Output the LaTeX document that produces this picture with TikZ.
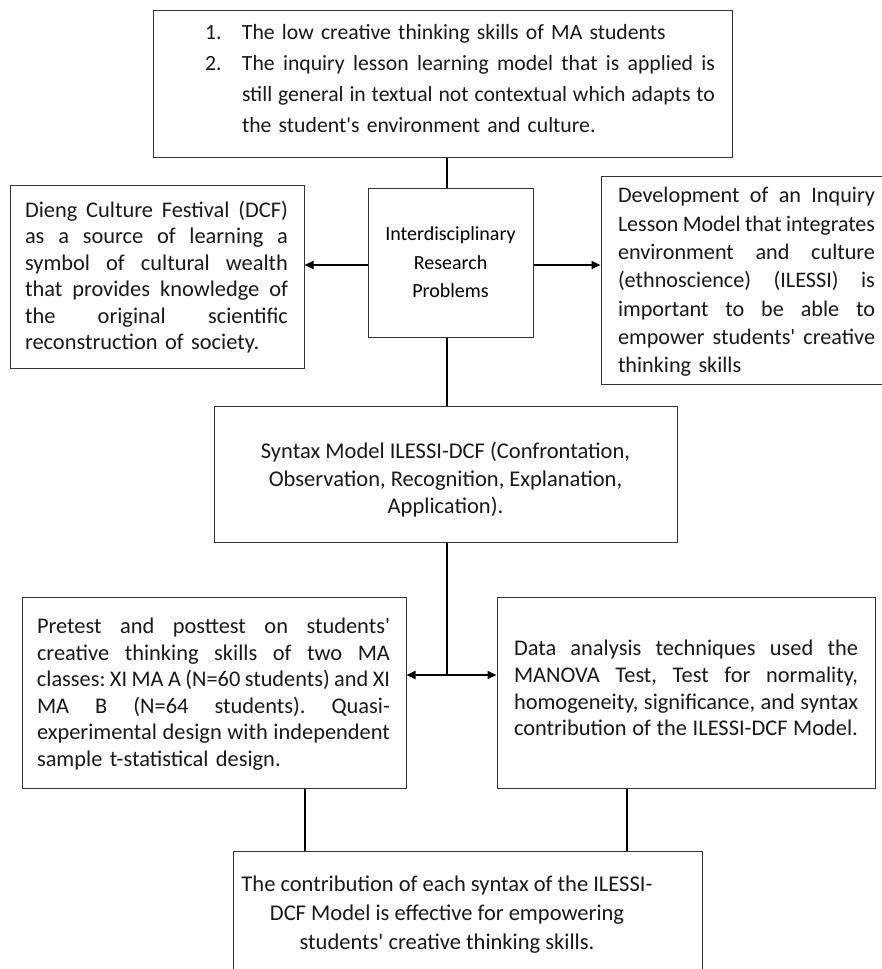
\documentclass[tikz,border=0pt]{standalone}
\usepackage{fontspec}
\usepackage{graphicx}
\setmainfont{Carlito}
\usetikzlibrary{arrows.meta}
\newlength{\jwd}
\newcommand{\jline}[2]{%
  \settowidth{\jwd}{\spaceskip=0.2em\relax #2}%
  \ifdim\jwd>#1\relax
    \resizebox{#1}{\height}{\spaceskip=0.2em\relax #2}%
  \else
    \makebox[#1][s]{\spaceskip=0.2em plus 1fil\relax #2}%
  \fi}
\newcommand{\ap}{\textquotesingle}
\tikzset{
  box/.style={draw=black!80, line width=1pt, inner sep=0pt},
  conn/.style={line width=2pt, draw=black},
  arr/.style={conn, -{Triangle[length=9pt,width=8pt]}},
  txt/.style={inner sep=0pt, text=black!90},
}
\begin{document}
\frenchspacing
\begin{tikzpicture}[x=1pt,y=-1pt]
\useasboundingbox (0,0) rectangle (882,969);
\fill[white] (0,0) rectangle (882,969);
\clip (0,0) rectangle (882,969);

% ---------- boxes ----------
\node[box, minimum width=579pt, minimum height=147pt] (top) at (442.5,83.5) {};
\node[txt, text width=510pt, align=left, font=\fontsize{21.7}{31}\selectfont] (toptext) at (460,79) {%
\makebox[37pt][l]{1.}The low creative thinking skills of MA students\\
\makebox[37pt][l]{2.}\jline{473pt}{The inquiry lesson learning model that is applied is}\\
\hspace*{37pt}\jline{473pt}{still general in textual not contextual which adapts to}\\
\hspace*{37pt}the student\ap s environment and culture.};

\node[box, minimum width=165pt, minimum height=149pt, align=center,
      font=\fontsize{20}{28.5}\selectfont] (inter) at (450.5,262.5)
      {Interdisciplinary\\Research\\Problems};

\node[box, minimum width=294pt, minimum height=183pt] (dcf) at (157,276.5) {};
\node[txt, text width=263pt, align=left, font=\fontsize{22.4}{26.5}\selectfont] (dcftext) at (156.5,277) {%
\jline{263pt}{Dieng Culture Festival (DCF)}\\
\jline{263pt}{as a source of learning a}\\
\jline{263pt}{symbol of cultural wealth}\\
\jline{263pt}{that provides knowledge of}\\
\jline{263pt}{the original scientific}\\
reconstruction of society.};

\node[box, minimum width=294pt, minimum height=208pt] (dev) at (748,280) {};
\node[txt, text width=257pt, align=left, font=\fontsize{22.2}{28.3}\selectfont] (devtext) at (746.5,282) {%
\jline{257pt}{Development of an Inquiry}\\
\jline{257pt}{Lesson Model that integrates}\\
\jline{257pt}{environment and culture}\\
\jline{257pt}{(ethnoscience) (ILESSI) is}\\
\jline{257pt}{important to be able to}\\
\jline{257pt}{empower students\ap{} creative}\\
thinking skills};

\node[box, minimum width=463pt, minimum height=136pt] (syntax) at (445.5,474) {};
\node[txt, align=center, font=\fontsize{22.5}{27.5}\selectfont] (syntaxtext) at (445.5,480)
      {Syntax Model ILESSI-DCF (Confrontation,\\Observation, Recognition, Explanation,\\Application).};

\node[box, minimum width=384pt, minimum height=191pt] (pre) at (214,692.5) {};
\node[txt, text width=353pt, align=left, font=\fontsize{22.4}{26.5}\selectfont] (pretext) at (213.5,694) {%
\jline{353pt}{Pretest and posttest on students\ap}\\
\jline{353pt}{creative thinking skills of two MA}\\
\jline{353pt}{classes: XI MA A (N=60 students) and XI}\\
\jline{353pt}{MA B (N=64 students). Quasi-}\\
\jline{353pt}{experimental design with independent}\\
sample t-statistical design.};

\node[box, minimum width=378pt, minimum height=191pt] (data) at (686,692.5) {};
\node[txt, text width=344pt, align=left, font=\fontsize{22.4}{26.7}\selectfont] (datatext) at (686,688) {%
\jline{344pt}{Data analysis techniques used the}\\
\jline{344pt}{MANOVA Test, Test for normality,}\\
\jline{344pt}{homogeneity, significance, and syntax}\\
\jline{344pt}{contribution of the ILESSI-DCF Model.}};

\node[box, minimum width=469pt, minimum height=140pt] (result) at (467.5,921) {};
\node[txt, align=center, font=\fontsize{22.5}{29}\selectfont] (resulttext) at (447,915) {%
The contribution of each syntax of the ILESSI-\\
DCF Model is effective for empowering\\
students\ap{} creative thinking skills.};

% ---------- connectors ----------
\coordinate (cx) at (447,0);
\coordinate (ya) at (0,265);
\coordinate (j) at (447,675);
\coordinate (lx) at (305,0);
\coordinate (rx) at (627,0);

\draw[conn] (top.south -| cx) -- (inter.north -| cx);
\draw[arr] (inter.west |- ya) -- (dcf.east |- ya);
\draw[arr] (inter.east |- ya) -- (dev.west |- ya);
\draw[conn] (inter.south -| cx) -- (syntax.north -| cx);
\draw[conn] (syntax.south -| cx) -- (j);
\draw[arr] (j) -- (pre.east |- j);
\draw[arr] (j) -- (data.west |- j);
\draw[conn] (pre.south -| lx) -- (result.north -| lx);
\draw[conn] (data.south -| rx) -- (result.north -| rx);
\end{tikzpicture}
\end{document}
